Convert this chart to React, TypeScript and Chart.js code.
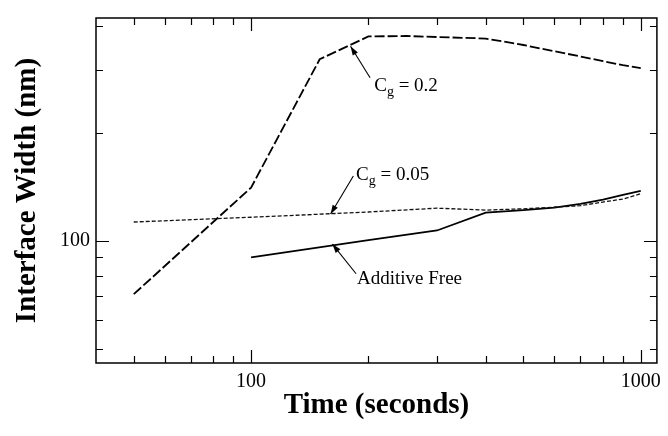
import { useEffect, useRef } from 'react';
import { Chart, registerables } from 'chart.js';
Chart.register(...registerables);

// ---- data ----
const cg02Time = [50, 100, 150, 200, 250, 400, 500, 600, 700, 800, 900, 1000];
const cg02Width = [71, 141, 322, 373, 374, 368, 353, 339, 328, 318, 310, 304];

const cg005Time = [50, 100, 200, 300, 400, 500, 600, 700, 800, 900, 1000];
const cg005Width = [113, 116.5, 120.5, 123.5, 122, 123, 124.3, 125.5, 128.5, 131, 135.5];

const freeTime = [100, 200, 300, 400, 500, 600, 700, 800, 900, 1000];
const freeWidth = [90, 100.5, 107, 120, 122, 124, 127, 130.5, 134.5, 138];

const xTickValues = [50, 60, 70, 80, 90, 100, 200, 300, 400, 500, 600, 700, 800, 900, 1000];
const yTickValues = [50, 60, 70, 80, 90, 100, 200, 300, 400];
const xTickLabels = ['100', '1000'];
const yTickLabels = ['100'];

// annotation: label main, subscript, rest; arrow tip (t,v), tail (t,v), text anchor (t,v)
const annoLabels = [
  { main: 'C', sub: 'g', rest: ' = 0.2', tip: [180, 350], tail: [202, 286], text: [207, 262] },
  { main: 'C', sub: 'g', rest: ' = 0.05', tip: [160, 119], tail: [183, 152], text: [186, 148] },
  { main: 'Additive Free', sub: '', rest: '', tip: [161.7, 98], tail: [186, 81], text: [187, 75.7] },
];

const SERIF = '"Liberation Serif", "Times New Roman", serif';

const decor = {
  id: 'decor',
  afterDatasetsDraw(chart: any) {
    const { ctx, chartArea: a, scales } = chart;
    const xs = scales.x, ys = scales.y;
    ctx.save();
    ctx.strokeStyle = '#000';
    ctx.lineWidth = 1.5;
    ctx.strokeRect(a.left, a.top, a.right - a.left, a.bottom - a.top);
    ctx.lineWidth = 1.2;
    ctx.beginPath();
    for (const v of xTickValues) {
      const px = Math.round(xs.getPixelForValue(v)) + 0.5;
      const len = xTickLabels.includes(String(v)) ? 13 : 7;
      ctx.moveTo(px, a.bottom); ctx.lineTo(px, a.bottom - len);
      ctx.moveTo(px, a.top); ctx.lineTo(px, a.top + len);
    }
    for (const v of yTickValues) {
      const py = Math.round(ys.getPixelForValue(v)) + 0.5;
      const len = yTickLabels.includes(String(v)) ? 13 : 7;
      ctx.moveTo(a.left, py); ctx.lineTo(a.left + len, py);
      ctx.moveTo(a.right, py); ctx.lineTo(a.right - len, py);
    }
    ctx.stroke();

    // annotations
    for (const an of annoLabels) {
      const tx = xs.getPixelForValue(an.tip[0]), ty = ys.getPixelForValue(an.tip[1]);
      const sx = xs.getPixelForValue(an.tail[0]), sy = ys.getPixelForValue(an.tail[1]);
      ctx.lineWidth = 1.1;
      ctx.beginPath(); ctx.moveTo(sx, sy); ctx.lineTo(tx, ty); ctx.stroke();
      const ang = Math.atan2(ty - sy, tx - sx);
      const hl = 9, hw = 3;
      ctx.beginPath();
      ctx.moveTo(tx, ty);
      ctx.lineTo(tx - hl * Math.cos(ang) + hw * Math.sin(ang), ty - hl * Math.sin(ang) - hw * Math.cos(ang));
      ctx.lineTo(tx - hl * Math.cos(ang) - hw * Math.sin(ang), ty - hl * Math.sin(ang) + hw * Math.cos(ang));
      ctx.closePath();
      ctx.fillStyle = '#000';
      ctx.fill();
      let px = xs.getPixelForValue(an.text[0]);
      const py = ys.getPixelForValue(an.text[1]);
      ctx.textBaseline = 'alphabetic';
      ctx.textAlign = 'left';
      ctx.font = `19px ${SERIF}`;
      ctx.fillText(an.main, px, py);
      px += ctx.measureText(an.main).width;
      if (an.sub) {
        ctx.font = `14px ${SERIF}`;
        ctx.fillText(an.sub, px, py + 5);
        px += ctx.measureText(an.sub).width;
      }
      if (an.rest) {
        ctx.font = `19px ${SERIF}`;
        ctx.fillText(an.rest, px, py);
      }
    }
    ctx.restore();
  },
};

export default function App() {
  const ref = useRef<HTMLCanvasElement>(null);
  useEffect(() => {
    if (!ref.current) return;
    const chart = new Chart(ref.current, {
      type: 'line',
      data: {
        datasets: [
          {
            label: 'Cg = 0.2',
            data: cg02Time.map((t, i) => ({ x: t, y: cg02Width[i] })),
            borderColor: '#000',
            borderWidth: 1.8,
            borderDash: [10, 3],
            pointRadius: 0,
            tension: 0,
          },
          {
            label: 'Cg = 0.05',
            data: cg005Time.map((t, i) => ({ x: t, y: cg005Width[i] })),
            borderColor: '#111',
            borderWidth: 1.3,
            borderDash: [4, 2],
            pointRadius: 0,
            tension: 0,
          },
          {
            label: 'Additive Free',
            data: freeTime.map((t, i) => ({ x: t, y: freeWidth[i] })),
            borderColor: '#000',
            borderWidth: 1.8,
            pointRadius: 0,
            tension: 0,
          },
        ],
      },
      options: {
        animation: false,
        responsive: false,
        maintainAspectRatio: false,
        layout: { padding: { top: 12, right: 8, left: 0, bottom: 0 } },
        plugins: { legend: { display: false }, tooltip: { enabled: false } },
        scales: {
          x: {
            type: 'logarithmic',
            min: 40,
            max: 1100,
            grid: { display: false, drawTicks: false },
            border: { display: false },
            afterFit: (s: any) => { s.height = 73; },
            afterBuildTicks: (s: any) => { s.ticks = xTickLabels.map((l) => ({ value: Number(l) })); },
            ticks: {
              autoSkip: false,
              maxRotation: 0,
              padding: 7,
              color: '#000',
              font: { family: SERIF, size: 20 },
              callback: (v: any) => (xTickLabels.includes(String(v)) ? String(v) : ''),
            },
            title: {
              display: true,
              text: 'Time (seconds)',
              color: '#000',
              font: { family: SERIF, size: 29, weight: 'bold' },
              padding: { top: 0, bottom: 13 },
            },
          },
          y: {
            type: 'logarithmic',
            min: 45.6,
            max: 420,
            grid: { display: false, drawTicks: false },
            border: { display: false },
            afterFit: (s: any) => { s.width = 96; },
            afterBuildTicks: (s: any) => { s.ticks = yTickLabels.map((l) => ({ value: Number(l) })); },
            ticks: {
              autoSkip: false,
              padding: 6,
              color: '#000',
              font: { family: SERIF, size: 20 },
              callback: (v: any) => (yTickLabels.includes(String(v)) ? String(v) : ''),
            },
            title: {
              display: true,
              text: 'Interface Width (nm)',
              color: '#000',
              font: { family: SERIF, size: 29, weight: 'bold' },
              padding: { top: 10, bottom: 0 },
            },
          },
        },
      },
      plugins: [decor],
    });
    return () => chart.destroy();
  }, []);
  return (
    <canvas
      ref={ref}
      width={668}
      height={436}
      style={{ position: 'fixed', left: 0, top: 0, width: 668, height: 436, display: 'block', background: '#fff' }}
    />
  );
}
